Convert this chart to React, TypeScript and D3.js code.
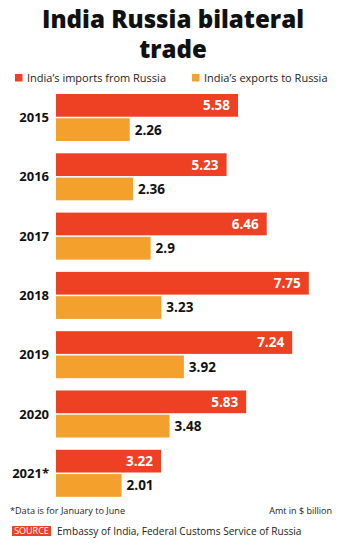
import React from 'react';
import * as d3 from 'd3';

const years = ['2015', '2016', '2017', '2018', '2019', '2020', '2021*'];
const imports = [5.58, 5.23, 6.46, 7.75, 7.24, 5.83, 3.22];
const exportsToRussia = [2.26, 2.36, 2.9, 3.23, 3.92, 3.48, 2.01];
const seriesKeys = ['imports', 'exports'];
const seriesNames = ["India’s imports from Russia", "India’s exports to Russia"];

const width = 350;
const height = 543;
const RED = '#ee4023';
const ORANGE = '#f4a02c';
const font = '"Open Sans", Lato, sans-serif';

const x = d3.scaleLinear().domain([0, 8]).range([56, 56 + 8 * 32.62]);
const y = d3.scaleBand().domain(years).range([94, 496.8]).paddingInner(0.207).paddingOuter(0);
const ySub = d3.scaleBand().domain(seriesKeys).range([0, y.bandwidth()]).paddingInner(0.064);

export default function App() {
  const rows = years.map((yr, i) => ({ yr, imp: imports[i], exp: exportsToRussia[i] }));
  return (
    <svg width={width} height={height} style={{ position: 'absolute', left: 0, top: 0, background: '#fff' }}
      fontFamily={font}>
      <text x={173} y={27.5} textAnchor="middle" fontSize={24} fontWeight={800} fill="#111" textLength={262} lengthAdjust="spacingAndGlyphs">India Russia bilateral</text>
      <text x={173} y={57.5} textAnchor="middle" fontSize={24} fontWeight={800} fill="#111">trade</text>

      <g>
        <rect x={15} y={74} width={7.5} height={7.5} fill={RED} />
        <text x={27} y={82} fontSize={11} fill="#222">{seriesNames[0]}</text>
        <rect x={192} y={74} width={7.5} height={7.5} fill={ORANGE} />
        <text x={204} y={82} fontSize={11} fill="#222">{seriesNames[1]}</text>
      </g>

      {rows.map(r => {
        const y0 = y(r.yr)!;
        const yi = y0 + ySub('imports')!;
        const ye = y0 + ySub('exports')!;
        const bh = ySub.bandwidth();
        return (
          <g key={r.yr}>
            <text x={49} y={y0 + y.bandwidth() / 2} dy="0.36em" textAnchor="end" fontSize={13} fontWeight={700} fill="#111">{r.yr}</text>
            <rect x={x(0)} y={yi} width={x(r.imp) - x(0)} height={bh} fill={RED} />
            <text x={x(r.imp) - 8} y={yi + bh / 2} dy="0.36em" textAnchor="end" fontSize={13.5} fontWeight={700} fill="#fff">{r.imp}</text>
            <rect x={x(0)} y={ye} width={x(r.exp) - x(0)} height={bh} fill={ORANGE} />
            <text x={x(r.exp) + 5} y={ye + bh / 2} dy="0.36em" textAnchor="start" fontSize={13.5} fontWeight={700} fill="#111">{r.exp}</text>
          </g>
        );
      })}

      <text x={10} y={514} fontSize={9.1} fill="#222">*Data is for January to June</text>
      <text x={332} y={514} textAnchor="end" fontSize={9} fill="#222">Amt in $ billion</text>
      <rect x={12} y={526} width={39} height={10} fill={RED} />
      <text x={31.5} y={534.3} textAnchor="middle" fontSize={9} fill="#fff">SOURCE</text>
      <text x={57} y={535} fontSize={10.1} fill="#222">Embassy of India, Federal Customs Service of Russia</text>
    </svg>
  );
}
